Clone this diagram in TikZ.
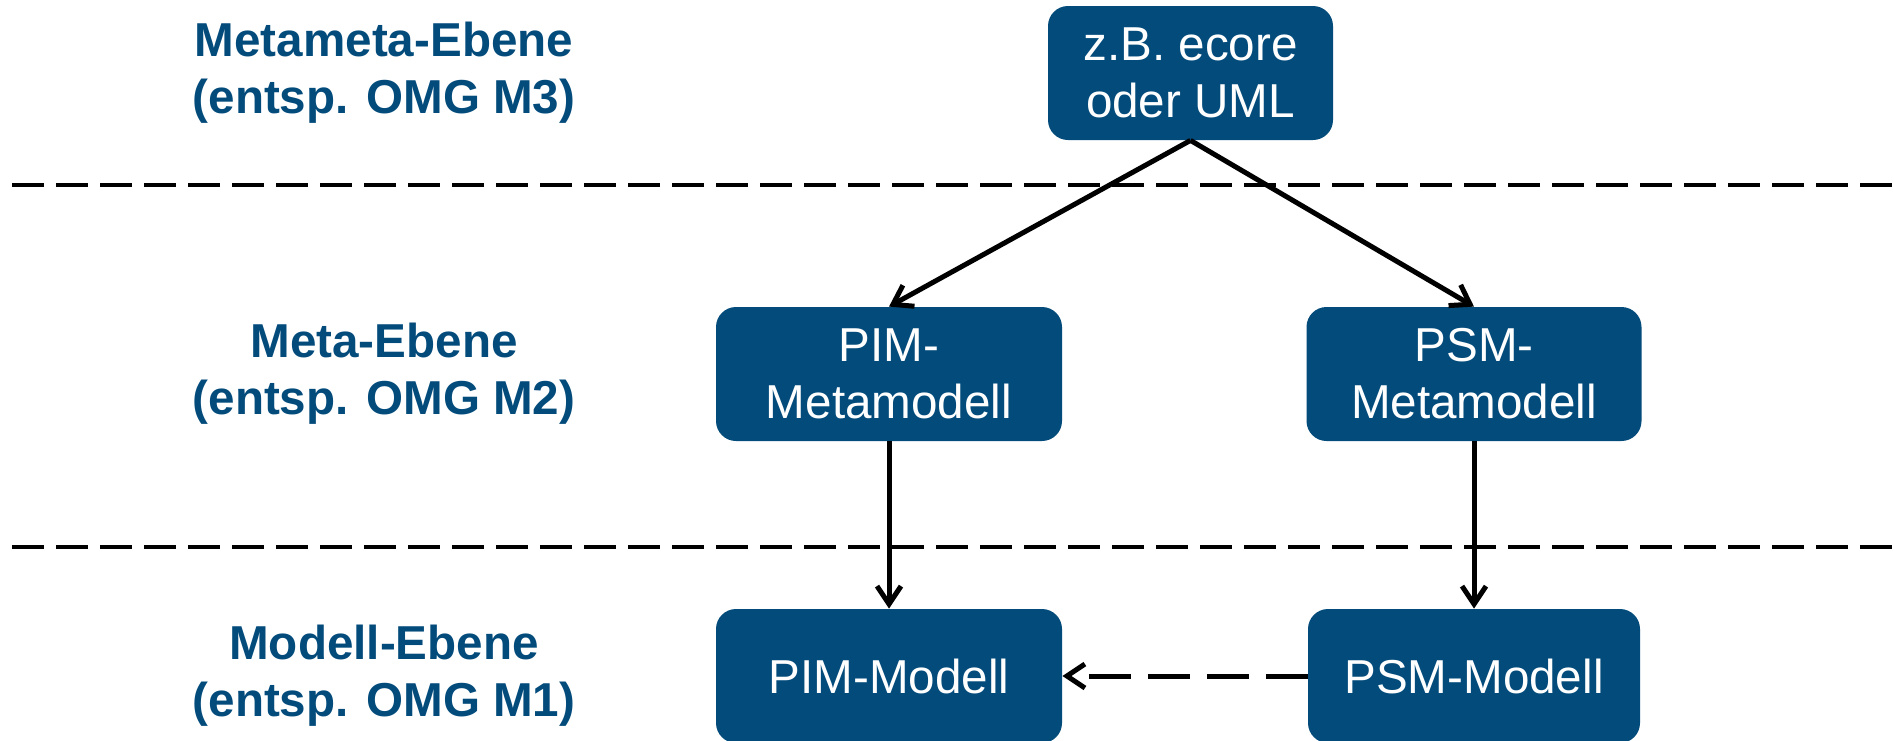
\documentclass[tikz,border=0pt]{standalone}
\usepackage{fontspec}
\setmainfont{Liberation Sans}
\usetikzlibrary{arrows.meta,positioning}
\definecolor{ebeneblau}{RGB}{3,75,123}

\begin{document}
\begin{tikzpicture}[x=0.5pt,y=-0.5pt,on grid,
    >={Straight Barb[length=9pt,width=12pt]},
    modell/.style={rectangle,rounded corners=10pt,fill=ebeneblau,text=white,
      align=center,minimum height=67pt,inner sep=0pt,
      font=\fontsize{23.8pt}{28.6pt}\selectfont},
    ebene/.style={align=center,text=ebeneblau,
      font=\fontsize{23.8pt}{28.6pt}\selectfont\bfseries},
    pfeil/.style={->,line width=2.5pt},
    trenner/.style={line width=2pt,dash pattern=on 16pt off 6pt}]
          \useasboundingbox (0,0) rectangle (1894,740);
          \node[modell,minimum width=142.5pt] (m3) at (1190.5,73) {z.B. ecore\\oder UML};
          \node[modell,minimum width=173pt] (pim_meta) [below left=150.5pt and 150.75pt of m3] {PIM-\\Metamodell};
          \node[modell,minimum width=167.5pt] (psm_meta) [right=292.5pt of pim_meta] {PSM-\\Metamodell};
          \node[modell,minimum width=173pt] (pim_mod) [below=151pt of pim_meta] {PIM-Modell};
          \node[modell,minimum width=166pt] (psm_mod) [below=151pt of psm_meta] {PSM-Modell};
          \node[ebene] (ebene_m2) [left=252.5pt of pim_meta] {Meta-Ebene\\(entsp. OMG M2)};
          \node[ebene] (ebene_m3) [above=150.5pt of ebene_m2] {Metameta-Ebene\\(entsp. OMG M3)};
          \node[ebene] (ebene_m1) [left=252.5pt of pim_mod] {Modell-Ebene\\(entsp. OMG M1)};
          \draw[trenner] (12,184.5) -- (1894,184.5);
          \draw[trenner] (12,546.5) -- (1894,546.5);
            \draw[pfeil] (m3.south) -- (pim_meta.north);
            \draw[pfeil] (m3.south) -- (psm_meta.north);
            \draw[pfeil] (pim_meta) -- (pim_mod);
            \draw[pfeil] (psm_meta) -- (psm_mod);
            \draw[pfeil,dash pattern=on 21pt off 8.5pt] (psm_mod) -- (pim_mod);
        \end{tikzpicture}
\end{document}
